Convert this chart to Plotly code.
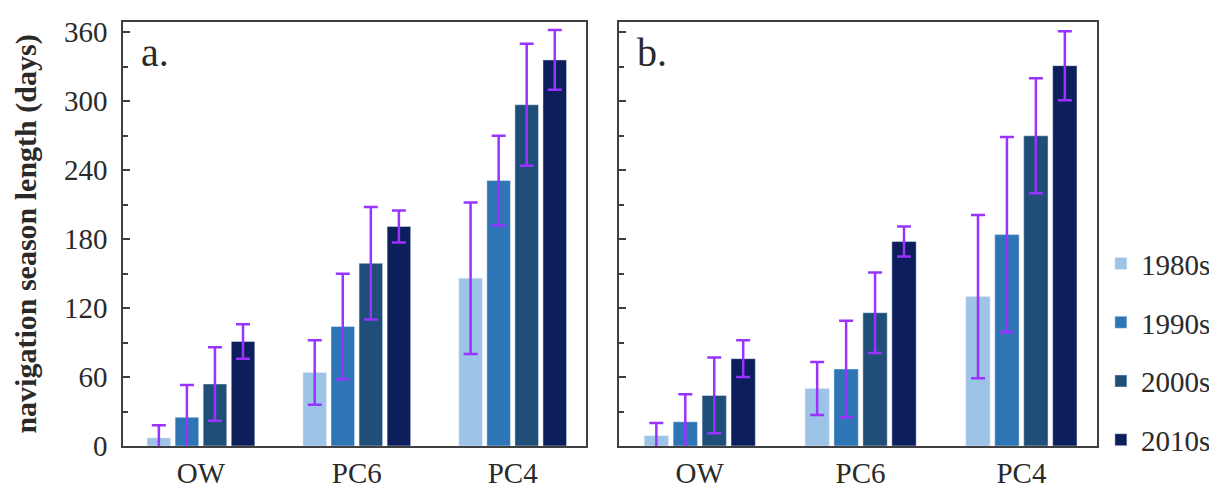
import plotly.graph_objects as go

categories = ["OW", "PC6", "PC4"]
decades = ["1980s", "1990s", "2000s", "2010s"]
colors = ["#9dc3e6", "#2e75b6", "#1f4e79", "#0c1f5c"]

# Panel a: mean values and error (± days)
a_1980s = [7, 64, 146]
a_1990s = [25, 104, 231]
a_2000s = [54, 159, 297]
a_2010s = [91, 191, 336]
a_err_1980s = [11, 28, 66]
a_err_1990s = [28, 46, 39]
a_err_2000s = [32, 49, 53]
a_err_2010s = [15, 14, 26]

# Panel b
b_1980s = [9, 50, 130]
b_1990s = [21, 67, 184]
b_2000s = [44, 116, 270]
b_2010s = [76, 178, 331]
b_err_1980s = [11, 23, 71]
b_err_1990s = [24, 42, 85]
b_err_2000s = [33, 35, 50]
b_err_2010s = [16, 13, 30]

a_vals = [a_1980s, a_1990s, a_2000s, a_2010s]
a_errs = [a_err_1980s, a_err_1990s, a_err_2000s, a_err_2010s]
b_vals = [b_1980s, b_1990s, b_2000s, b_2010s]
b_errs = [b_err_1980s, b_err_1990s, b_err_2000s, b_err_2010s]

FONT = "Liberation Serif"
ERR_COLOR = "#9933ff"
TXT = "#2a2a2a"

fig = go.Figure()
for i, d in enumerate(decades):
    fig.add_trace(go.Bar(
        x=categories, y=a_vals[i], name=d, marker_color=colors[i],
        error_y=dict(type="data", array=a_errs[i], color=ERR_COLOR, thickness=2.5, width=7),
        xaxis="x", yaxis="y", legendgroup=d, showlegend=True,
    ))
for i, d in enumerate(decades):
    fig.add_trace(go.Bar(
        x=categories, y=b_vals[i], name=d, marker_color=colors[i],
        error_y=dict(type="data", array=b_errs[i], color=ERR_COLOR, thickness=2.5, width=7),
        xaxis="x2", yaxis="y2", legendgroup=d, showlegend=False,
    ))

axis_line = dict(showline=True, linecolor="#404040", linewidth=1.5, mirror=True)
yticks = dict(
    range=[0, 369], tickvals=[0, 60, 120, 180, 240, 300, 360],
    ticks="inside", ticklen=7, tickwidth=1.5, tickcolor="#404040",
    minor=dict(dtick=30, ticks="inside", ticklen=5, tickwidth=1.5, tickcolor="#404040", showgrid=False),
    showgrid=False, zeroline=False,
)
xcommon = dict(range=[-0.5, 2.47], showgrid=False, ticks="", tickfont=dict(family=FONT, size=29, color=TXT))

fig.update_layout(
    width=1217, height=490,
    margin=dict(l=115, r=109, t=9, b=40),
    paper_bgcolor="white", plot_bgcolor="white",
    barmode="group", bargap=0.28, bargroupgap=0.16,
    font=dict(family=FONT, color=TXT),
    xaxis=dict(domain=[0, 0.4753], **xcommon, **axis_line),
    xaxis2=dict(domain=[0.5096, 1], **xcommon, **axis_line),
    yaxis=dict(anchor="x", **yticks, **axis_line, ticklabelstandoff=8,
               tickfont=dict(family=FONT, size=29, color=TXT),
               title=dict(text="<b>navigation season length (days)</b>",
                          font=dict(family=FONT, size=30, color=TXT), standoff=18)),
    yaxis2=dict(anchor="x2", showticklabels=False, **yticks, **axis_line),
    legend=dict(x=1.004, y=0.49, xanchor="left", yanchor="top",
                font=dict(family=FONT, size=29, color=TXT),
                tracegroupgap=18, itemwidth=30, bgcolor="rgba(0,0,0,0)"),
    annotations=[
        dict(text="a.", x=0.016, y=0.985, xref="paper", yref="paper", xanchor="left", yanchor="top",
             showarrow=False, font=dict(family=FONT, size=40, color=TXT)),
        dict(text="b.", x=0.526, y=0.985, xref="paper", yref="paper", xanchor="left", yanchor="top",
             showarrow=False, font=dict(family=FONT, size=40, color=TXT)),
    ],
)

fig.write_html("out.html")
